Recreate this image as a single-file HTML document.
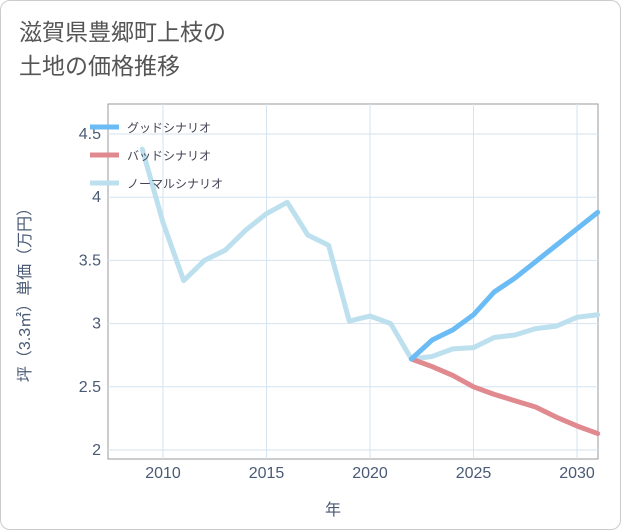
<!DOCTYPE html>
<html><head><meta charset="utf-8"><style>
body{margin:0;background:#fff;font-family:"Liberation Sans","Noto Sans CJK JP",sans-serif;}
#wrap{position:relative;width:619px;height:528px;border:1px solid #ccc;border-radius:10px;background:#fff;overflow:hidden}
#title{position:absolute;left:18px;top:14px;font-size:23px;line-height:34px;color:#555;}
</style></head><body>
<div id="wrap">
<div id="title">滋賀県豊郷町上枝の<br>土地の価格推移</div>
<svg id="chart" width="621" height="530" style="position:absolute;left:0;top:0"></svg>
</div>
<script>
const years=[2009,2010,2011,2012,2013,2014,2015,2016,2017,2018,2019,2020,2021,2022,2023,2024,2025,2026,2027,2028,2029,2030,2031];
const normalVals=[4.38,3.8,3.34,3.5,3.58,3.74,3.87,3.96,3.70,3.62,3.02,3.06,3.0,2.72,2.74,2.80,2.81,2.89,2.91,2.96,2.98,3.05,3.07];
const forecastYears=[2022,2023,2024,2025,2026,2027,2028,2029,2030,2031];
const goodVals=[2.72,2.87,2.95,3.07,3.25,3.36,3.49,3.62,3.75,3.88];
const badVals=[2.72,2.66,2.59,2.50,2.44,2.39,2.34,2.26,2.19,2.13];
const xTicks=[2010,2015,2020,2025,2030];
const yTicks=[2,2.5,3,3.5,4,4.5];
const yTickLabels=["2","2.5","3","3.5","4","4.5"];
const L=107,R=597,T=103,B=458;
const x=v=>162+(v-2010)*20.7;
const y=v=>449-(v-2)*126.4;
const svg=document.getElementById('chart');const NS='http://www.w3.org/2000/svg';
function mk(t,a,p){const e=document.createElementNS(NS,t);for(const k in a)e.setAttribute(k,a[k]);(p||svg).appendChild(e);return e;}
const frame=mk('rect',{x:L,y:T,width:R-L,height:B-T,fill:'#fff',stroke:'#999','stroke-width':1});


xTicks.forEach(t=>{const g=mk('line',{x1:x(t),x2:x(t),y1:T,y2:B,stroke:'#d5e3ee'});


const tx=mk('text',{x:x(t),y:477,'text-anchor':'middle','font-size':16,fill:'#4a5a75'});tx.textContent=t;

});
yTicks.forEach((t,i)=>{const g=mk('line',{x1:L,x2:R,y1:y(t),y2:y(t),stroke:'#d5e3ee'});


const tx=mk('text',{x:100,y:y(t)+5,'text-anchor':'end','font-size':16,fill:'#4a5a75'});tx.textContent=yTickLabels[i];

});
const xt=mk('text',{x:332,y:514,'text-anchor':'middle','font-size':16,fill:'#4a5a75'});xt.textContent='年';


const yt=mk('text',{x:0,y:0,'text-anchor':'middle','font-size':16,fill:'#4a5a75',transform:'translate(29,290) rotate(-90)'});yt.textContent='坪（3.3㎡）単価（万円）';


function line(xs,vs,col,name){const p=mk('polyline',{points:xs.map((t,i)=>x(t)+','+y(vs[i])).join(' '),fill:'none',stroke:col,'stroke-width':5,'stroke-linejoin':'round','stroke-linecap':'round'});

}
line(years,normalVals,'#bde0ee','normal-series-line');
line(forecastYears,badVals,'#e08a90','bad-series-line');
line(forecastYears,goodVals,'#6bbcf5','good-series-line');
[['グッドシナリオ','#6bbcf5'],['バッドシナリオ','#e08a90'],['ノーマルシナリオ','#bde0ee']].forEach((d,i)=>{
const yy=126+i*28;
const l=mk('line',{x1:89,x2:118,y1:yy,y2:yy,stroke:d[1],'stroke-width':5});


const t=mk('text',{x:126,y:yy+5,'font-size':12,fill:'#445'});t.textContent=d[0];

});
</script>
</body></html>
